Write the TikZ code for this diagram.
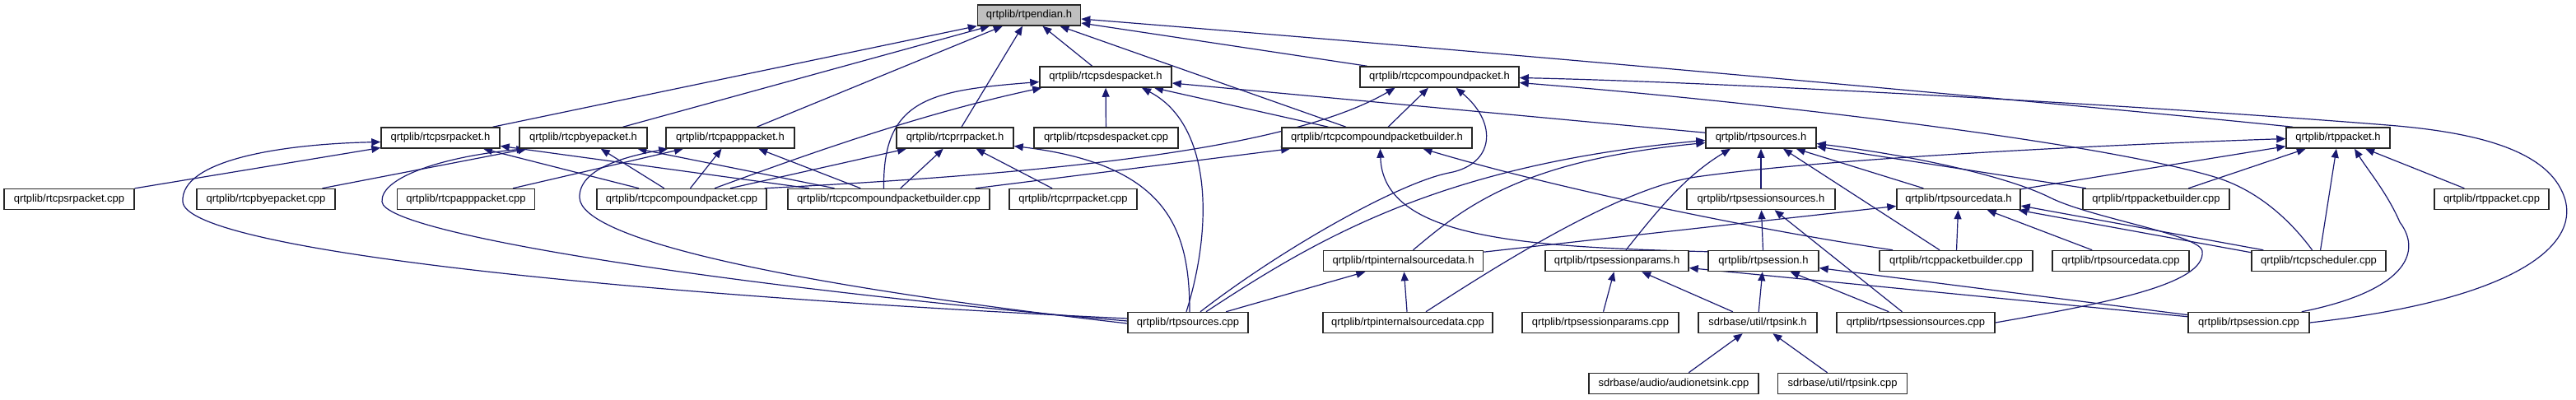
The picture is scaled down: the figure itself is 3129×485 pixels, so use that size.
\documentclass[tikz,border=0pt]{standalone}
\usepackage{fontspec}
\setmainfont{Liberation Sans}
\usetikzlibrary{arrows.meta}
\definecolor{edgeblue}{RGB}{25,25,112}
\pgfdeclarelayer{bg}\pgfsetlayers{bg,main}
\begin{document}
\begin{tikzpicture}[x=1pt,y=-1pt,
  box/.style={draw=black!85, line width=1.5pt, fill=white, minimum height=25pt, inner sep=0pt, font=\fontsize{13}{15}\selectfont},
  e/.style={draw=edgeblue, line width=1.2pt, -{Triangle[length=11pt,width=9pt]}}]
\useasboundingbox (0,0) rectangle (3129,485);
% row 0
\node[box, minimum width=125pt, fill=black!25] (endian) at (1250,18.5) {qrtplib/rtpendian.h};
% row 1
\node[box, minimum width=160pt] (sdesh) at (1343,93.5) {qrtplib/rtcpsdespacket.h};
\node[box, minimum width=193pt] (cpkth) at (1748.5,93.5) {qrtplib/rtcpcompoundpacket.h};
% row 2
\node[box, minimum width=144pt] (srh) at (535,167.5) {qrtplib/rtcpsrpacket.h};
\node[box, minimum width=155pt] (byeh) at (708.5,167.5) {qrtplib/rtcpbyepacket.h};
\node[box, minimum width=156pt] (apph) at (887,167.5) {qrtplib/rtcpapppacket.h};
\node[box, minimum width=142pt] (rrh) at (1160,167.5) {qrtplib/rtcprrpacket.h};
\node[box, minimum width=175pt] (sdescpp) at (1343.5,167.5) {qrtplib/rtcpsdespacket.cpp};
\node[box, minimum width=231pt] (cpbh) at (1672.5,167.5) {qrtplib/rtcpcompoundpacketbuilder.h};
\node[box, minimum width=134pt] (srch) at (2139,167.5) {qrtplib/rtpsources.h};
\node[box, minimum width=126pt] (pkth) at (2840,167.5) {qrtplib/rtppacket.h};
% row 3
\node[box, minimum width=158pt] (srcpp) at (84,242) {qrtplib/rtcpsrpacket.cpp};
\node[box, minimum width=168pt] (byecpp) at (323,242) {qrtplib/rtcpbyepacket.cpp};
\node[box, minimum width=167pt] (appcpp) at (566,242) {qrtplib/rtcpapppacket.cpp};
\node[box, minimum width=206pt] (cpktcpp) at (828,242) {qrtplib/rtcpcompoundpacket.cpp};
\node[box, minimum width=245pt] (cpbcpp) at (1079.5,242) {qrtplib/rtcpcompoundpacketbuilder.cpp};
\node[box, minimum width=155pt] (rrcpp) at (1303.5,242) {qrtplib/rtcprrpacket.cpp};
\node[box, minimum width=180pt] (sesssrch) at (2139,242) {qrtplib/rtpsessionsources.h};
\node[box, minimum width=150pt] (srcdatah) at (2379,242) {qrtplib/rtpsourcedata.h};
\node[box, minimum width=178pt] (pktbcpp) at (2619,242) {qrtplib/rtppacketbuilder.cpp};
\node[box, minimum width=139pt] (pktcpp) at (3026.5,242) {qrtplib/rtppacket.cpp};
% row 4
\node[box, minimum width=194pt] (intsrch) at (1704.5,317) {qrtplib/rtpinternalsourcedata.h};
\node[box, minimum width=174pt] (sessparh) at (1964,317) {qrtplib/rtpsessionparams.h};
\node[box, minimum width=134pt] (sessh) at (2142,317) {qrtplib/rtpsession.h};
\node[box, minimum width=186pt] (rtcppbcpp) at (2376,317) {qrtplib/rtcppacketbuilder.cpp};
\node[box, minimum width=166pt] (srcdatacpp) at (2576,317) {qrtplib/rtpsourcedata.cpp};
\node[box, minimum width=163pt] (schedcpp) at (2816.5,317) {qrtplib/rtcpscheduler.cpp};
% row 5
\node[box, minimum width=146pt] (srccpp) at (1443,392) {qrtplib/rtpsources.cpp};
\node[box, minimum width=206pt] (intsrccpp) at (1710,392) {qrtplib/rtpinternalsourcedata.cpp};
\node[box, minimum width=190pt] (sessparcpp) at (1944,392) {qrtplib/rtpsessionparams.cpp};
\node[box, minimum width=144pt] (sinkh) at (2135,392) {sdrbase/util/rtpsink.h};
\node[box, minimum width=192pt] (sesssrccpp) at (2327,392) {qrtplib/rtpsessionsources.cpp};
\node[box, minimum width=147pt] (sesscpp) at (2731.5,392) {qrtplib/rtpsession.cpp};
% row 6
\node[box, minimum width=206pt] (audiocpp) at (2033,466) {sdrbase/audio/audionetsink.cpp};
\node[box, minimum width=157pt] (sinkcpp) at (2238,466) {sdrbase/util/rtpsink.cpp};

\begin{pgfonlayer}{bg}
% into rtpendian.h
\draw[e] (srh) -- (endian);
\draw[e] (byeh) -- (endian);
\draw[e] (apph) -- (endian);
\draw[e] (rrh) -- (endian);
\draw[e] (sdesh) -- (endian);
\draw[e] (cpbh) -- (endian);
\draw[e] (cpkth) -- (endian);
\draw[e] ([xshift=-55pt]pkth.north) .. controls (2600,135) and (1900,70) .. ([yshift=-4.5pt]endian.east);
% into rtcpsdespacket.h
\draw[e] ([xshift=40pt]cpktcpp.north) .. controls (960,195) and (1110,140) .. ([xshift=3pt]sdesh.south west);
\draw[e] ([xshift=-6pt]cpbcpp.north) .. controls (1072,120) and (1130,110) .. ([yshift=-6pt]sdesh.west);
\draw[e] (sdescpp) -- (sdesh);
\draw[e] ([xshift=-2pt]srccpp.north) .. controls (1475,270) and (1470,150) .. ([xshift=44pt]sdesh.south);
\draw[e] (cpbh) -- (sdesh);
\draw[e] (srch) -- (sdesh);
% into rtcpcompoundpacket.h
\draw[e] (cpbh) -- (cpkth);
\draw[e] ([xshift=-3pt]cpktcpp.north east) .. controls (1250,212) and (1560,185) .. ([xshift=-54pt]cpkth.south);
\draw[e] ([xshift=15pt]srccpp.north) .. controls (1560,300) and (1700,222) .. (1760,210) .. controls (1815,200) and (1820,150) .. ([xshift=20pt]cpkth.south);
\draw[e] (sesscpp.east) .. controls (3050,365) and (3135,300) .. (3115,240) .. controls (3095,180) and (3000,160) .. (2900,152) .. controls (2600,128) and (2100,100) .. ([yshift=-1pt]cpkth.east);
\draw[e] ([xshift=-8pt]schedcpp.north) .. controls (2780,265) and (2740,230) .. (2690,215) .. controls (2550,173) and (2150,125) .. ([yshift=-7pt]cpkth.east);
% into rtcpsrpacket.h
\draw[e] ([yshift=5pt]srccpp.west) .. controls (700,355) and (225,300) .. (222,245) .. controls (219,195) and (340,175) .. ([yshift=-5pt]srh.west);
\draw[e] (srcpp) -- (srh);
\draw[e] (cpktcpp) -- (srh);
\draw[e] (cpbcpp) -- (srh);
% into rtcpbyepacket.h
\draw[e] (byecpp) -- (byeh);
\draw[e] ([yshift=2pt]srccpp.west) .. controls (900,350) and (466,285) .. (464,245) .. controls (462,215) and (540,190) .. ([xshift=-70pt]byeh.south);
\draw[e] (cpktcpp) -- (byeh);
\draw[e] (cpbcpp) -- (byeh);
% into rtcpapppacket.h
\draw[e] (appcpp) -- (apph);
\draw[e] ([yshift=-1pt]srccpp.west) .. controls (950,345) and (705,290) .. (704,240) .. controls (703,205) and (760,190) .. ([xshift=3pt]apph.south west);
\draw[e] (cpktcpp) -- (apph);
\draw[e] (cpbcpp) -- (apph);
% into rtcprrpacket.h
\draw[e] (cpktcpp) -- (rrh);
\draw[e] (cpbcpp) -- (rrh);
\draw[e] (rrcpp) -- (rrh);
\draw[e] ([xshift=2pt]srccpp.north) .. controls (1445,280) and (1420,200) .. ([yshift=-10pt]rrh.east);
% into rtcpcompoundpacketbuilder.h
\draw[e] (cpbcpp) -- (cpbh);
\draw[e] ([yshift=-2pt]sessh.north west) .. controls (1850,300) and (1680,290) .. ([xshift=4pt]cpbh.south);
\draw[e] ([xshift=-77pt]rtcppbcpp.north) .. controls (2150,282) and (1900,232) .. ([xshift=56pt]cpbh.south);
% into rtpsources.h
\draw[e] ([xshift=22pt]srccpp.north) .. controls (1600,290) and (1750,200) .. ([yshift=-3pt]srch.west);
\draw[e] ([xshift=12pt]intsrch.north) .. controls (1780,250) and (1850,195) .. ([yshift=-6pt]srch.west);
\draw[e] ([xshift=11pt]sessparh.north) .. controls (2010,260) and (2045,215) .. ([xshift=-37pt]srch.south);
\draw[e] (sesssrch) -- (srch);
\draw[e] ([xshift=-20pt]rtcppbcpp.north) -- ([xshift=27pt]srch.south);
\draw[e] (srcdatah) -- (srch);
\draw[e] (pktbcpp) -- (srch);
\draw[e] (sesssrccpp.east) .. controls (2560,368) and (2680,345) .. (2675,305) .. controls (2672,285) and (2540,265) .. (2490,240) .. controls (2440,215) and (2330,190) .. ([yshift=-7pt]srch.east);
% into rtppacket.h
\draw[e] ([xshift=22pt]intsrccpp.north) .. controls (1800,335) and (1962,229) .. (2060,215) .. controls (2200,195) and (2500,178) .. ([yshift=-1pt]pkth.west);
\draw[e] (srcdatah) -- (pkth);
\draw[e] (pktbcpp) -- (pkth);
\draw[e] (schedcpp) -- (pkth);
\draw[e] ([xshift=-10pt]sesscpp.north east) .. controls (2915,355) and (2945,310) .. (2915,270) .. controls (2900,235) and (2875,205) .. ([xshift=20pt]pkth.south);
\draw[e] (pktcpp) -- (pkth);
% into rtpsessionsources.h
\draw[e] (sessh) -- (sesssrch);
\draw[e] (sesssrccpp) -- (sesssrch);
% into rtpsourcedata.h
\draw[e] (intsrch) -- (srcdatah);
\draw[e] (rtcppbcpp) -- (srcdatah);
\draw[e] (srcdatacpp) -- (srcdatah);
\draw[e] ([xshift=15pt]schedcpp.north west) -- ([yshift=-8pt]srcdatah.east);
\draw[e] ([yshift=-3pt]schedcpp.north west) -- ([xshift=-3pt]srcdatah.south east);
% into rtpinternalsourcedata.h
\draw[e] (srccpp) -- (intsrch);
\draw[e] (intsrccpp) -- (intsrch);
% into rtpsessionparams.h
\draw[e] (sessparcpp) -- (sessparh);
\draw[e] (sinkh) -- (sessparh);
\draw[e] (sesscpp) -- (sessparh);
% into rtpsession.h
\draw[e] (sinkh) -- (sessh);
\draw[e] (sesssrccpp) -- (sessh);
\draw[e] (sesscpp) -- (sessh);
% into rtpsink.h
\draw[e] (audiocpp) -- (sinkh);
\draw[e] (sinkcpp) -- (sinkh);
\end{pgfonlayer}
\end{tikzpicture}
\end{document}
